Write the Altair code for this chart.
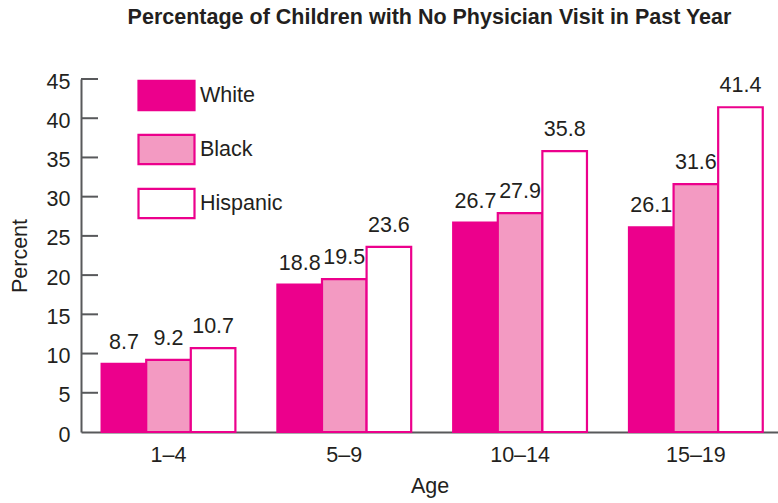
import altair as alt
import pandas as pd

# Share of children with no physician visit in the past year, by age group and race/ethnicity
ages = ["1–4", "5–9", "10–14", "15–19"]
groups = ["White", "Black", "Hispanic"]
white = [8.7, 18.8, 26.7, 26.1]
black = [9.2, 19.5, 27.9, 31.6]
hispanic = [10.7, 23.6, 35.8, 41.4]
y_ticks = [0, 5, 10, 15, 20, 25, 30, 35, 40, 45]

MAGENTA = "#EC008C"
PINK = "#F39AC2"
TEXT = "#231F20"
AXIS = "#58595B"
FONT = "Liberation Sans"
FS = 21.5

rows = []
for i, age in enumerate(ages):
    for g, series in zip(groups, (white, black, hispanic)):
        rows.append({"Age": age, "Group": g, "Percent": series[i]})
df = pd.DataFrame(rows)

x_axis = alt.Axis(
    title="Age",
    labelAngle=0,
    ticks=False,
    labelPadding=12,
    labelFontSize=FS,
    titleFontSize=FS,
    titleFontWeight="normal",
    titlePadding=10,
    domainColor=AXIS,
    domainWidth=2,
    labelColor=TEXT,
    titleColor=TEXT,
)
y_axis = alt.Axis(
    title="Percent",
    values=y_ticks,
    ticks=False,
    grid=False,
    labelOverlap=False,
    labelPadding=11,
    labelOffset=3,
    labelFontSize=FS,
    titleFontSize=FS,
    titleFontWeight="normal",
    titlePadding=15,
    domainColor=AXIS,
    domainWidth=2,
    labelColor=TEXT,
    titleColor=TEXT,
)
x_scale = alt.Scale(paddingInner=0.239, paddingOuter=0.102, align=0.575)
y_scale = alt.Scale(domain=[0, 45], nice=False, zero=True)
xoff_enc = alt.XOffset("Group:N", sort=groups, scale=alt.Scale(paddingInner=0, paddingOuter=0))

bars = alt.Chart(df).mark_bar(stroke=MAGENTA, strokeWidth=2.2, opacity=1).encode(
    x=alt.X("Age:N", sort=ages, scale=x_scale, axis=x_axis),
    xOffset=xoff_enc,
    y=alt.Y("Percent:Q", scale=y_scale, axis=y_axis),
    fill=alt.Fill(
        "Group:N",
        sort=groups,
        scale=alt.Scale(domain=groups, range=[MAGENTA, PINK, "#FFFFFF"]),
        legend=alt.Legend(
            title=None,
            orient="none",
            legendX=56,
            legendY=-13,
            symbolType="M-1,-0.52H1V0.52H-1Z",
            symbolSize=3136,
            symbolStrokeColor=MAGENTA,
            symbolStrokeWidth=2.2,
            symbolOpacity=1,
            labelFontSize=FS,
            labelColor=TEXT,
            labelOffset=4,
            rowPadding=5,
            padding=0,
        ),
    ),
)

labels = alt.Chart(df).mark_text(
    baseline="alphabetic", dy=-15, fontSize=FS, color=TEXT, font=FONT
).encode(
    x=alt.X("Age:N", sort=ages, scale=x_scale, axis=x_axis),
    xOffset=xoff_enc,
    y=alt.Y("Percent:Q", scale=y_scale, axis=y_axis),
    text=alt.Text("Percent:Q", format=".1f"),
)

# inward tick marks on the value axis (zero sits on the baseline)
tick_df = pd.DataFrame({"v": [t for t in y_ticks if t > 0]})
ticks = alt.Chart(tick_df).mark_rule(color=AXIS, strokeWidth=2).encode(
    y=alt.Y("v:Q", scale=y_scale, axis=y_axis),
    x=alt.value(0),
    x2=alt.value(17),
)

chart = (
    alt.layer(bars, ticks, labels)
    .properties(
        width=697,
        height=353,
        padding={"left": 81, "top": 79, "right": 0, "bottom": 71},
        autosize=alt.AutoSizeParams(type="none"),
        title=alt.TitleParams(
            "Percentage of Children with No Physician Visit in Past Year",
            fontSize=FS,
            fontWeight="bold",
            anchor="middle",
            color=TEXT,
            font=FONT,
            offset=38,
        ),
    )
    .configure(font=FONT)
    .configure_view(stroke=None)
)

chart.save("out.html", embed_options={"renderer": "svg", "actions": False})
